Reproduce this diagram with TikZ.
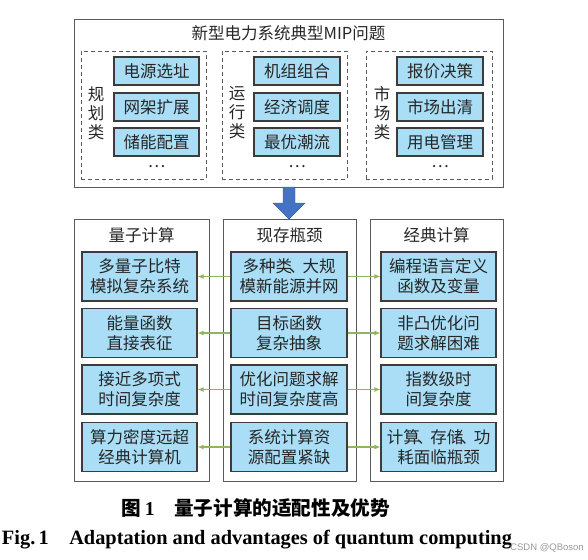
\documentclass[tikz,border=0pt]{standalone}
\usepackage{fontspec}
\setmainfont{Liberation Serif}
\newfontfamily\cjk{Noto Sans CJK SC}
\newfontfamily\wmfont{Liberation Sans}
\usetikzlibrary{arrows.meta}
\definecolor{boxblue}{HTML}{A9DEF6}
\definecolor{boxline}{HTML}{3C3C3C}
\definecolor{frameline}{HTML}{5A5A5A}
\definecolor{arrowblue}{HTML}{4472C4}
\definecolor{arrowgreen}{HTML}{8DB65E}
\newcommand{\dun}{\kern-3pt、\kern-3pt}
\begin{document}
\begin{tikzpicture}[x=1pt,y=-1pt,
  txt/.style={font=\cjk\fontsize{16.5}{20}\selectfont, text=black!85, align=center, inner sep=0pt},
  bluebox/.style={txt, draw=boxline, line width=1.1pt, fill=boxblue},
  smallbox/.style={bluebox, minimum width=85pt, minimum height=28pt},
  bigbox/.style={bluebox, minimum width=115pt, minimum height=49pt},
  frame/.style={draw=frameline, line width=0.9pt},
  dashbox/.style={draw=frameline, line width=0.9pt, dash pattern=on 4pt off 3pt},
  garrow/.style={draw=arrowgreen, line width=1.1pt, -{Latex[length=6pt,width=5pt]}}
]
\useasboundingbox (0,0) rectangle (588,559);
% top frame
\node[frame, minimum width=429pt, minimum height=168pt, inner sep=0pt] (top) at (288.5,103) {};
\node[txt] (title) at (288.5,33) {新型电力系统典型MIP问题};
\node[dashbox, minimum width=125pt, minimum height=128pt, inner sep=0pt] (g1) at (143.5,115) {};
\node[dashbox, minimum width=125pt, minimum height=128pt, inner sep=0pt] (g2) at (284.5,115) {};
\node[dashbox, minimum width=126pt, minimum height=128pt, inner sep=0pt] (g3) at (429,115) {};
\node[txt, font=\cjk\fontsize{16.5}{19}\selectfont] (l1) at (96,113) {规\\划\\类};
\node[txt, font=\cjk\fontsize{16.5}{19}\selectfont] (l2) at (237,113) {运\\行\\类};
\node[txt, font=\cjk\fontsize{16.5}{19}\selectfont] (l3) at (382,113) {市\\场\\类};
\node[smallbox] (a1) at (156.5,71) {电源选址};
\node[smallbox] (a2) at (156.5,107) {网架扩展};
\node[smallbox] (a3) at (156.5,142) {储能配置};
\node[txt] (a4) at (156.5,167) {\ldots};
\node[smallbox, minimum width=86pt] (b1) at (297,71) {机组组合};
\node[smallbox, minimum width=86pt] (b2) at (297,107) {经济调度};
\node[smallbox, minimum width=86pt] (b3) at (297,142) {最优潮流};
\node[txt] (b4) at (297,167) {\ldots};
\node[smallbox, minimum width=86pt] (c1) at (440,71) {报价决策};
\node[smallbox, minimum width=86pt] (c2) at (440,107) {市场出清};
\node[smallbox, minimum width=86pt] (c3) at (440,142) {用电管理};
\node[txt] (c4) at (440,167) {\ldots};
% bottom frames
\node[frame, minimum width=135pt, minimum height=262pt, inner sep=0pt] (left) at (141.5,350) {};
\node[frame, minimum width=133pt, minimum height=262pt, inner sep=0pt] (mid) at (289.5,350) {};
\node[frame, minimum width=133pt, minimum height=262pt, inner sep=0pt] (right) at (436.5,350) {};
\node[txt] (lh) at (141.5,235) {量子计算};
\node[txt] (mh) at (289.5,235) {现存瓶颈};
\node[txt] (rh) at (436.5,235) {经典计算};
% blue arrow
\draw[draw=arrowblue!80!black, fill=arrowblue, line width=0.4pt]
  (283,187) -- (295,187) -- (295,203) -- (305,203) -- (289,219) -- (273,203) -- (283,203) -- cycle;
% left column
\node[bigbox] (q1) at (139.5,276.5) {多量子比特\\模拟复杂系统};
\node[bigbox] (q2) at (139.5,333) {能量函数\\直接表征};
\node[bigbox] (q3) at (139.5,389.5) {接近多项式\\时间复杂度};
\node[bigbox] (q4) at (139.5,447) {算力密度远超\\经典计算机};
% middle column
\node[bigbox, minimum width=116pt] (m1) at (289,276.5) {多种类\dun 大规\\模新能源并网};
\node[bigbox, minimum width=116pt] (m2) at (289,333) {目标函数\\复杂抽象};
\node[bigbox, minimum width=116pt] (m3) at (289,389.5) {优化问题求解\\时间复杂度高};
\node[bigbox, minimum width=116pt] (m4) at (289,447) {系统计算资\\源配置紧缺};
% right column
\node[bigbox] (r1) at (438.5,276.5) {编程语言定义\\函数及变量};
\node[bigbox] (r2) at (438.5,333) {非凸优化问\\题求解困难};
\node[bigbox] (r3) at (438.5,389.5) {指数级时\\间复杂度};
\node[bigbox] (r4) at (438.5,447) {计算\dun 存储\dun 功\\耗面临瓶颈};
\foreach \i in {1,2,3,4}{
  \draw[garrow] (m\i.west) -- (q\i.east);
  \draw[garrow] (m\i.east) -- (r\i.west);
}
% captions
\node[inner sep=0pt] (cap1) at (256,508) {\resizebox{268pt}{!}{\cjk\bfseries\fontsize{17}{20}\selectfont 图\,{\rmfamily\bfseries 1}\quad 量子计算的适配性及优势}};
\node[inner sep=0pt] (cap2) at (257,540) {\resizebox{510pt}{!}{\bfseries Fig.\,1\quad Adaptation and advantages of quantum computing}};
\node[inner sep=0pt, font=\wmfont\fontsize{9.5}{10}\selectfont, text=black!40] (wm) at (547,548) {CSDN @QBoson};
\end{tikzpicture}
\end{document}
